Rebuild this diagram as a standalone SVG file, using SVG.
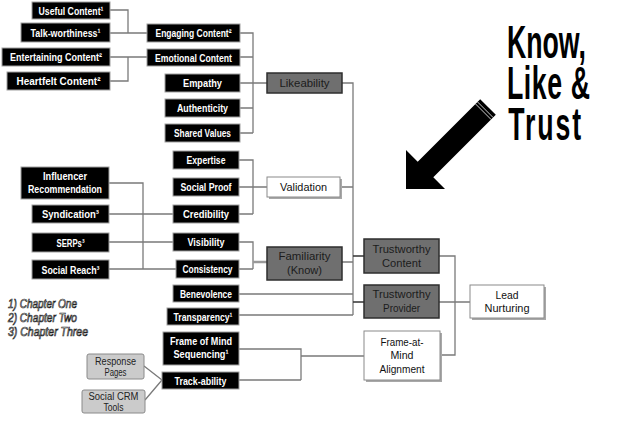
<svg xmlns="http://www.w3.org/2000/svg" width="625" height="437" viewBox="0 0 625 437">
<style>
.b{fill:#000;stroke:#a0a0a0;stroke-width:1}
.d{fill:#6f6f6f;stroke:#2e2e2e;stroke-width:1.5}
.w{fill:#fff;stroke:#8a8a8a;stroke-width:1}
.sh{fill:#a8a8a8}
.g{fill:#cbcbcb;stroke:#8a8a8a;stroke-width:1}
text{font-family:"Liberation Sans Narrow","Liberation Sans",Arial,sans-serif;font-weight:bold;text-anchor:middle;font-size:11px}
.tb{fill:#fff}
.td{fill:#1c1c1c;font-weight:normal}
.tw{fill:#111;font-weight:normal}
.tg{fill:#222;font-weight:normal;font-size:10px}
.c{fill:none;stroke:#7a7a7a;stroke-width:1.3}
.big{font-family:"Liberation Sans",Arial,sans-serif;font-size:46px;fill:#000;text-anchor:start}
.leg{font-style:italic;font-weight:normal;font-size:12px;fill:#fff;stroke:#222;stroke-width:0.7;text-anchor:start}
</style>
<rect width="625" height="437" fill="#fff"/>
<g id="connectors">
<path class="c" d="M110,10H128V33M110,33H147"/>
<path class="c" d="M110,57H147M110,81H128V57"/>
<path class="c" d="M240,33H253V133M240,57H253M240,83H267M240,108H253M240,133H253"/>
<path class="c" d="M239,160H253V214M239,187H267M239,214H253"/>
<path class="c" d="M239,242H253V269M239,269H253"/>
<path class="c" d="M253,262H267" style="stroke:#999;stroke-width:2.5"/>
<path class="c" d="M109,183H143V269H176M109,269H143M109,214H173M109,242H173"/>
<path class="c" d="M342,83H353V315M340,187H353M342,262H353M239,294H353M239,315H353"/>
<path class="c" d="M353,256H364M353,302H364" style="stroke:#333"/>
<path class="c" d="M239,349H301V380M239,380H301M301,356H364"/>
<path class="c" d="M439,256H455V355H440M439,302H470"/>
<path class="c" d="M144,366L162,380M145,400L162,380"/>
</g>
<g id="n-useful"><rect class="b" x="32" y="2" width="78" height="17"/><text class="tb" x="71" y="14.5" textLength="65" lengthAdjust="spacingAndGlyphs">Useful Content¹</text></g>
<g id="n-talk"><rect class="b" x="21" y="23" width="89" height="19"/><text class="tb" x="65.5" y="36.5" textLength="70" lengthAdjust="spacingAndGlyphs">Talk-worthiness¹</text></g>
<g id="n-entertaining"><rect class="b" x="2" y="48" width="108" height="18"/><text class="tb" x="56" y="61" textLength="92" lengthAdjust="spacingAndGlyphs">Entertaining Content²</text></g>
<g id="n-heartfelt"><rect class="b" x="7" y="72" width="103" height="18"/><text class="tb" x="58.5" y="85" textLength="84" lengthAdjust="spacingAndGlyphs">Heartfelt Content²</text></g>
<g id="n-engaging"><rect class="b" x="147" y="24" width="93" height="18"/><text class="tb" x="193.5" y="37" textLength="76" lengthAdjust="spacingAndGlyphs">Engaging Content²</text></g>
<g id="n-emotional"><rect class="b" x="147" y="49" width="93" height="17"/><text class="tb" x="193.5" y="61.5" textLength="77" lengthAdjust="spacingAndGlyphs">Emotional Content</text></g>
<g id="n-empathy"><rect class="b" x="165" y="74" width="75" height="18"/><text class="tb" x="202.5" y="87" textLength="39" lengthAdjust="spacingAndGlyphs">Empathy</text></g>
<g id="n-authenticity"><rect class="b" x="165" y="99" width="75" height="18"/><text class="tb" x="202.5" y="112" textLength="51" lengthAdjust="spacingAndGlyphs">Authenticity</text></g>
<g id="n-shared"><rect class="b" x="165" y="124" width="75" height="18"/><text class="tb" x="202.5" y="137" textLength="57" lengthAdjust="spacingAndGlyphs">Shared Values</text></g>
<g id="n-expertise"><rect class="b" x="173" y="151" width="66" height="18"/><text class="tb" x="206" y="164" textLength="39" lengthAdjust="spacingAndGlyphs">Expertise</text></g>
<g id="n-socialproof"><rect class="b" x="173" y="178" width="66" height="18"/><text class="tb" x="206" y="191" textLength="51" lengthAdjust="spacingAndGlyphs">Social Proof</text></g>
<g id="n-credibility"><rect class="b" x="173" y="205" width="66" height="18"/><text class="tb" x="206" y="218" textLength="46" lengthAdjust="spacingAndGlyphs">Credibility</text></g>
<g id="n-visibility"><rect class="b" x="173" y="233" width="66" height="18"/><text class="tb" x="206" y="246" textLength="37" lengthAdjust="spacingAndGlyphs">Visibility</text></g>
<g id="n-consistency"><rect class="b" x="176" y="260" width="63" height="18"/><text class="tb" x="207.5" y="273" textLength="50" lengthAdjust="spacingAndGlyphs">Consistency</text></g>
<g id="n-benevolence"><rect class="b" x="173" y="285" width="66" height="17"/><text class="tb" x="206" y="297.5" textLength="52" lengthAdjust="spacingAndGlyphs">Benevolence</text></g>
<g id="n-transparency"><rect class="b" x="167" y="308" width="72" height="17"/><text class="tb" x="203" y="320.5" textLength="59" lengthAdjust="spacingAndGlyphs">Transparency¹</text></g>
<g id="n-frameseq"><rect class="b" x="163" y="332" width="76" height="33"/><text class="tb" x="201" y="345" textLength="62" lengthAdjust="spacingAndGlyphs">Frame of Mind</text><text class="tb" x="201" y="358" textLength="55" lengthAdjust="spacingAndGlyphs">Sequencing¹</text></g>
<g id="n-trackability"><rect class="b" x="162" y="372" width="77" height="17"/><text class="tb" x="200.5" y="384.5" textLength="52" lengthAdjust="spacingAndGlyphs">Track-ability</text></g>
<g id="n-influencer"><rect class="b" x="21" y="167" width="88" height="32"/><text class="tb" x="65" y="180" textLength="44" lengthAdjust="spacingAndGlyphs">Influencer</text><text class="tb" x="65" y="193" textLength="74" lengthAdjust="spacingAndGlyphs">Recommendation</text></g>
<g id="n-syndication"><rect class="b" x="32" y="205" width="77" height="18"/><text class="tb" x="70.5" y="218" textLength="57" lengthAdjust="spacingAndGlyphs">Syndication³</text></g>
<g id="n-serps"><rect class="b" x="32" y="233" width="77" height="19"/><text class="tb" x="70.5" y="246.5" textLength="28" lengthAdjust="spacingAndGlyphs">SERPs³</text></g>
<g id="n-socialreach"><rect class="b" x="32" y="260" width="77" height="19"/><text class="tb" x="70.5" y="273.5" textLength="58" lengthAdjust="spacingAndGlyphs">Social Reach³</text></g>
<g id="n-response"><rect class="g" x="87" y="354" width="57" height="25" rx="2"/><text class="tg" x="115.5" y="364.5" textLength="41" lengthAdjust="spacingAndGlyphs">Response</text><text class="tg" x="115.5" y="375.5" textLength="22" lengthAdjust="spacingAndGlyphs">Pages</text></g>
<g id="n-socialcrm"><rect class="g" x="82" y="390" width="63" height="23" rx="2"/><text class="tg" x="113.5" y="400" textLength="50" lengthAdjust="spacingAndGlyphs">Social CRM</text><text class="tg" x="113.5" y="410.5" textLength="20" lengthAdjust="spacingAndGlyphs">Tools</text></g>
<g id="n-likeability"><rect class="d" x="267" y="73" width="75" height="20"/><text class="td" x="304.5" y="87" textLength="50" lengthAdjust="spacingAndGlyphs">Likeability</text></g>
<g id="n-familiarity"><rect class="d" x="267" y="247" width="75" height="33"/><text class="td" x="304.5" y="260" textLength="52" lengthAdjust="spacingAndGlyphs">Familiarity</text><text class="td" x="304.5" y="274" textLength="35" lengthAdjust="spacingAndGlyphs">(Know)</text></g>
<g id="n-tcontent"><rect class="d" x="364" y="239" width="75" height="34"/><text class="td" x="401.5" y="253" textLength="58" lengthAdjust="spacingAndGlyphs">Trustworthy</text><text class="td" x="401.5" y="267" textLength="39" lengthAdjust="spacingAndGlyphs">Content</text></g>
<g id="n-tprovider"><rect class="d" x="364" y="285" width="75" height="33"/><text class="td" x="401.5" y="298" textLength="58" lengthAdjust="spacingAndGlyphs">Trustworthy</text><text class="td" x="401.5" y="312" textLength="37" lengthAdjust="spacingAndGlyphs">Provider</text></g>
<g id="n-validation"><rect class="sh" x="269" y="179" width="73" height="20"/><rect class="w" x="267" y="177" width="73" height="20"/><text class="tw" x="303.5" y="191" textLength="47" lengthAdjust="spacingAndGlyphs">Validation</text></g>
<g id="n-framealign"><rect class="sh" x="366" y="333" width="76" height="49"/><rect class="w" x="364" y="331" width="76" height="49"/><text class="tw" x="402" y="346" textLength="43" lengthAdjust="spacingAndGlyphs">Frame-at-</text><text class="tw" x="402" y="359" textLength="23" lengthAdjust="spacingAndGlyphs">Mind</text><text class="tw" x="402" y="373" textLength="45" lengthAdjust="spacingAndGlyphs">Alignment</text></g>
<g id="n-lead"><rect class="sh" x="472" y="287" width="74" height="33"/><rect class="w" x="470" y="285" width="74" height="33"/><text class="tw" x="507" y="299" textLength="23" lengthAdjust="spacingAndGlyphs">Lead</text><text class="tw" x="507" y="312" textLength="45" lengthAdjust="spacingAndGlyphs">Nurturing</text></g>
<g id="legend">
<text class="leg" x="8" y="308" textLength="69" lengthAdjust="spacingAndGlyphs">1) Chapter One</text>
<text class="leg" x="8" y="322" textLength="69" lengthAdjust="spacingAndGlyphs">2) Chapter Two</text>
<text class="leg" x="8" y="336" textLength="80" lengthAdjust="spacingAndGlyphs">3) Chapter Three</text>
</g>
<g id="title">
<text class="big" transform="translate(507,0) scale(0.58,1)"><tspan x="0" y="58">Know,</tspan><tspan x="0" y="99" letter-spacing="1">Like &amp;</tspan><tspan x="2" y="140" letter-spacing="3.4">Trust</tspan></text>
</g>
<g id="arrow">
<polygon points="406,189 406,150 417.7,161.7 480.2,99.2 495.8,114.8 433.3,177.3 445,189" fill="#000"/>
<path d="M477.5,101.9L493.1,117.5M475.5,103.9L491.1,119.5" stroke="#fff" stroke-width="0.8"/>
</g>
</svg>
